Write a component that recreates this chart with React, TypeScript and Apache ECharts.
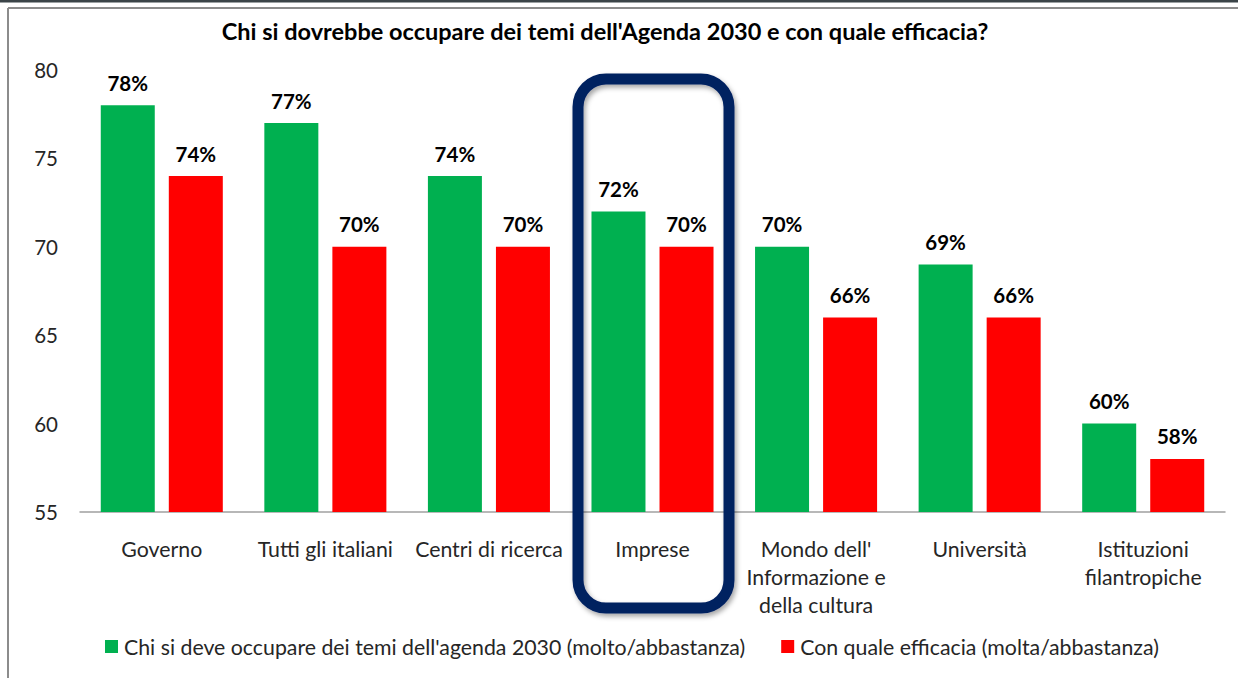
import React, { useEffect, useRef } from "react";
import * as echarts from "echarts";

const categories = [
  "Governo",
  "Tutti gli italiani",
  "Centri di ricerca",
  "Imprese",
  "Mondo dell'\nInformazione e\ndella cultura",
  "Università",
  "Istituzioni\nfilantropiche",
];
const seriesNames = [
  "Chi si deve occupare dei temi dell'agenda 2030 (molto/abbastanza)",
  "Con quale efficacia (molta/abbastanza)",
];
const chiValues = [78, 77, 74, 72, 70, 69, 60];
const efficaciaValues = [74, 70, 70, 70, 66, 66, 58];
const yTicks = { min: 55, max: 80, interval: 5 };
const title = "Chi si dovrebbe occupare dei temi dell'Agenda 2030 e con quale efficacia?";

const FONT = "Lato";

export default function App() {
  const ref = useRef<HTMLDivElement>(null);
  useEffect(() => {
    if (!ref.current) return;
    const chart = echarts.init(ref.current, null, { renderer: "svg" });
    const labelCfg = {
      show: true,
      position: "top",
      distance: 12,
      formatter: "{c}%",
      fontFamily: FONT,
      fontWeight: "bold",
      fontSize: 20.5,
      color: "#000",
    };
    chart.setOption({
      animation: false,
      backgroundColor: "#fff",
      title: {
        text: title,
        left: 605,
        textAlign: "center",
        top: 19,
        padding: 0,
        textStyle: { fontFamily: FONT, fontWeight: "bold", fontSize: 23.5, color: "#000" },
      },
      legend: {
        left: 105,
        top: 636,
        padding: 0,
        itemWidth: 13,
        itemHeight: 13,
        itemGap: 36,
        icon: "rect",
        textStyle: { fontFamily: FONT, fontSize: 21.3, color: "#262626", padding: [0, 0, 0, 1] },
        data: seriesNames,
      },
      grid: { left: 80, right: 13, top: 70, bottom: 166, containLabel: false },
      xAxis: {
        type: "category",
        data: categories,
        axisLine: { show: true, lineStyle: { color: "#a0a0a0", width: 1.5 } },
        axisTick: { show: false },
        axisLabel: {
          interval: 0,
          margin: 23,
          fontFamily: FONT,
          fontSize: 21.3,
          lineHeight: 28,
          color: "#262626",
          align: "center",
          verticalAlign: "top",
        },
      },
      yAxis: {
        type: "value",
        min: yTicks.min,
        max: yTicks.max,
        interval: yTicks.interval,
        splitLine: { show: false },
        axisLine: { show: false },
        axisTick: { show: false },
        axisLabel: { margin: 22, fontFamily: FONT, fontSize: 20.5, color: "#262626" },
      },
      series: [
        {
          name: seriesNames[0],
          type: "bar",
          data: chiValues,
          barWidth: 54,
          barGap: "26%",
          itemStyle: { color: "#00B050" },
          label: labelCfg,
        },
        {
          name: seriesNames[1],
          type: "bar",
          data: efficaciaValues,
          barWidth: 54,
          itemStyle: { color: "#FF0000" },
          label: labelCfg,
        },
      ],
      graphic: [
        { type: "rect", shape: { x: 0, y: 0, width: 1238, height: 2.5 }, style: { fill: "#3b4448" } },
        { type: "line", shape: { x1: 8, y1: 8, x2: 1238, y2: 8 }, style: { stroke: "#8c8c8c", lineWidth: 2 } },
        { type: "line", shape: { x1: 8, y1: 8, x2: 8, y2: 678 }, style: { stroke: "#8c8c8c", lineWidth: 2 } },
        {
          type: "rect",
          shape: { x: 578, y: 79, width: 151, height: 529, r: 28 },
          style: {
            fill: "none",
            stroke: "#002060",
            lineWidth: 11,
            shadowColor: "rgba(0,0,0,0.35)",
            shadowBlur: 5,
            shadowOffsetX: 2,
            shadowOffsetY: 3,
          },
          z: 100,
        },
      ],
    });
    return () => chart.dispose();
  }, []);
  return <div ref={ref} style={{ width: 1238, height: 678, position: "absolute", left: 0, top: 0 }} />;
}
